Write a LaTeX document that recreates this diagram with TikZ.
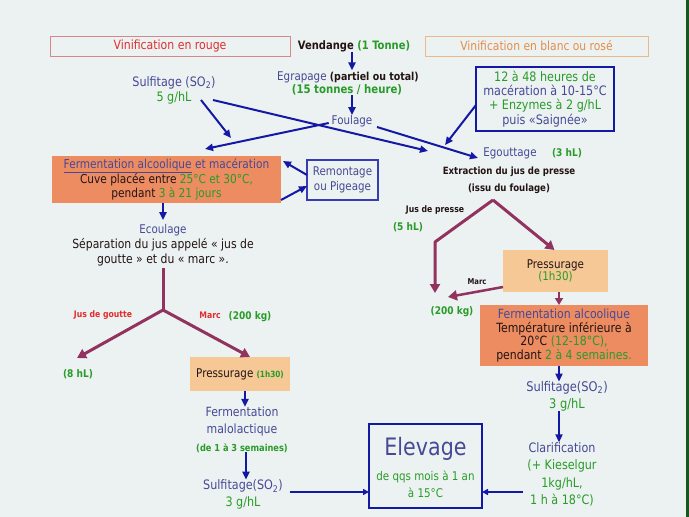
\documentclass[tikz,border=0pt]{standalone}
\usepackage{fontspec}
\setmainfont[FakeStretch=0.86]{DejaVu Sans}
\usetikzlibrary{arrows.meta}
\definecolor{bg}{RGB}{236,242,242}
\definecolor{bt}{RGB}{72,72,150}
\definecolor{gr}{RGB}{40,155,40}
\definecolor{ab}{RGB}{20,25,165}
\definecolor{mr}{RGB}{145,50,95}
\definecolor{salmon}{RGB}{236,140,96}
\definecolor{lorange}{RGB}{246,200,150}
\definecolor{rt}{RGB}{225,45,45}
\definecolor{rb}{RGB}{215,135,140}
\definecolor{ob}{RGB}{235,185,145}
\definecolor{ot}{RGB}{228,140,75}
\definecolor{tx}{RGB}{35,20,20}
\definecolor{edgec}{RGB}{25,85,30}
\begin{document}
\begin{tikzpicture}[x=1pt,y=-1pt,
  every node/.style={inner sep=0pt, outer sep=0pt, text=tx, font=\fontsize{12}{15}\selectfont},
  barrow/.style={ab, line width=2pt, -{Triangle[length=8pt,width=7pt]}},
  harrow/.style={ab, line width=1.8pt, -{Triangle[length=6pt,width=6pt]}},
  marrow/.style={mr, line width=3pt, -{Triangle[length=9pt,width=10pt]}},
  mline/.style={mr, line width=3pt, line join=round},
  bsmall/.style={font=\fontsize{10}{12}\selectfont\bfseries},
  gsmall/.style={font=\fontsize{10.5}{12}\selectfont\bfseries, text=gr},
  titlebox/.style={line width=1pt, minimum height=20pt}
]
\useasboundingbox (0,0) rectangle (689,517);
\fill[bg] (0,0) rectangle (689,517);
\fill[edgec] (686,0) rectangle (689,517);

% titles
\node[titlebox, draw=rb, minimum width=240pt, text=rt, font=\fontsize{12.7}{15}\selectfont] (rouge) at (170,46) {Vinification en rouge};
\node (vend) at (354,46) {\fontsize{11.6}{13}\selectfont\bfseries Vendange \textcolor{gr}{(1 Tonne)}};
\node[titlebox, draw=ob, minimum width=223pt, text=ot, font=\fontsize{12.5}{15}\selectfont] (blanc) at (536.5,46) {Vinification en blanc ou rosé};

% central top
\node (egr) at (348,77) {\textcolor{bt}{Egrapage} {\fontsize{11}{12}\selectfont\bfseries (partiel ou total)}};
\node[font=\fontsize{11.8}{13}\selectfont\bfseries, text=gr] (ton) at (347,90) {(15 tonnes / heure)};
\node[text=bt] (foul) at (352,121) {Foulage};
\node[align=center, text=bt, font=\fontsize{13}{15}\selectfont] (sulf) at (174,90) {Sulfitage (SO\textsubscript{2})\\\textcolor{gr}{5 g/hL}};

% left column
\node[fill=salmon, minimum width=229pt, minimum height=47pt, align=center, font=\fontsize{12.3}{14.5}\selectfont] (ferm) at (166.5,179.5)
  {\textcolor{bt}{\underline{Fermentation alcoolique} et macération}\\Cuve placée entre \textcolor{gr}{25°C et 30°C,}\\pendant \textcolor{gr}{3 à 21 jours}};
\node[draw=ab!85, line width=1.3pt, minimum width=71pt, minimum height=40pt, align=center, text=bt, font=\fontsize{12}{14.5}\selectfont] (remo) at (342.5,180) {Remontage\\ou Pigeage};
\node[text=bt] (ecoul) at (163,230) {Ecoulage};
\node[align=center, font=\fontsize{12.6}{15}\selectfont] (sep) at (163,252.5) {Séparation du jus appelé « jus de\\goutte » et du « marc ».};
\node[font=\fontsize{9}{11}\selectfont\bfseries, text=rt] (jg) at (103,315) {Jus de goutte};
\node[font=\fontsize{9}{11}\selectfont\bfseries, text=rt] (marcL) at (210,315) {Marc};
\node[gsmall] (kgL) at (250,317) {(200 kg)};
\node[gsmall] (hl8) at (78,374) {(8 hL)};
\node[fill=lorange, minimum width=100pt, minimum height=34pt] (pressL) at (240,374) {Pressurage {\fontsize{8.5}{10}\selectfont\bfseries\color{gr}(1h30)}};
\node[align=center, text=bt, font=\fontsize{12.7}{17}\selectfont] (malo) at (242,421.5) {Fermentation\\malolactique};
\node[font=\fontsize{9.6}{11}\selectfont\bfseries, text=gr] (sem) at (242,448) {(de 1 à 3 semaines)};
\node[align=center, text=bt, font=\fontsize{13}{17}\selectfont] (sulfL) at (243,494.5) {Sulfitage(SO\textsubscript{2})\\\textcolor{gr}{3 g/hL}};

% elevage
\node[draw=ab, line width=2.5pt, minimum width=113pt, minimum height=84pt] (elev) at (425.5,466) {};
\node[text=bt, font=\fontsize{24}{26}\selectfont] (elevt) at (425.5,449) {Elevage};
\node[text=gr, align=center, font=\fontsize{12}{17}\selectfont] (elevs) at (425.5,484.5) {de qqs mois à 1 an\\à 15°C};

% right column
\node[draw=ab, line width=2.5pt, minimum width=138pt, minimum height=64pt, align=center, font=\fontsize{13}{14.3}\selectfont] (mac) at (545,99)
  {\textcolor{gr}{12 à 48 heures de}\\\textcolor{bt}{macération à 10-15°C}\\\textcolor{gr}{+ Enzymes à 2 g/hL}\\\textcolor{bt}{puis «Saignée»}};
\node[text=bt] (egout) at (510,153) {Egouttage};
\node[gsmall] (e3) at (567,153) {(3 hL)};
\node[bsmall] (extr) at (509,172) {Extraction du jus de presse};
\node[bsmall] (issu) at (509,189) {(issu du foulage)};
\node[font=\fontsize{9}{11}\selectfont\bfseries] (jp) at (435,210) {Jus de presse};
\node[gsmall] (hl5) at (408,227) {(5 hL)};
\node[fill=lorange, minimum width=105pt, minimum height=42pt, align=center, font=\fontsize{12}{12.6}\selectfont] (pressR) at (555.5,271) {Pressurage\\\textcolor{gr}{(1h30)}};
\node[font=\fontsize{8}{10}\selectfont\bfseries] (marcR) at (477,282) {Marc};
\node[gsmall] (kgR) at (452,312) {(200 kg)};
\node[fill=salmon, minimum width=168pt, minimum height=61pt, align=center, font=\fontsize{12.7}{13.7}\selectfont] (fermR) at (564,335.5)
  {\textcolor{bt}{Fermentation alcoolique}\\Température inférieure à\\20°C \textcolor{gr}{(12-18°C),}\\pendant \textcolor{gr}{2 à 4 semaines.}};
\node[align=center, text=bt, font=\fontsize{13.3}{17}\selectfont] (sulfR) at (567,396.5) {Sulfitage(SO\textsubscript{2})\\\textcolor{gr}{3 g/hL}};
\node[align=center, text=bt, font=\fontsize{13}{17.6}\selectfont] (clar) at (562,474.5) {Clarification\\\textcolor{gr}{(+ Kieselgur}\\\textcolor{gr}{1kg/hL,}\\\textcolor{gr}{1 h à 18°C)}};

% coordinates
\coordinate (a1s) at (201,100);
\coordinate (a1e) at (231,138);
\coordinate (a2s) at (213,100);
\coordinate (a2e) at (428,151);
\coordinate (a3e) at (205,149);
\coordinate (a4s) at (377,127);
\coordinate (a4e) at (478,158);
\coordinate (a5e) at (445,145);
\coordinate (r1e) at (283,161);
\coordinate (r2s) at (281,200);
\coordinate (ystem) at (163,268);
\coordinate (yj) at (163,310);
\coordinate (yl) at (77,358);
\coordinate (yr) at (250,357);
\coordinate (apex) at (493,200);
\coordinate (jl) at (435,242);
\coordinate (jle) at (435,293);
\coordinate (mrs) at (503,287);
\coordinate (mre) at (448,297);
\coordinate (la) at (290,492);
\coordinate (ra) at (523,492);

% blue arrows
\draw[barrow, shorten >=1pt] ([xshift=-2pt]vend.south) -- ([xshift=-2pt]vend.south |- egr.north);
\draw[barrow] ([xshift=4pt]egr.south |- ton.south) -- ([xshift=4pt]egr.south |- foul.north);
\draw[barrow] (a1s) -- (a1e);
\draw[barrow] (a2s) -- (a2e);
\draw[barrow] ([xshift=-3pt,yshift=-2pt]foul.west) -- (a3e);
\draw[barrow] (a4s) -- (a4e);
\draw[barrow] ([yshift=-6pt]mac.west) -- (a5e);
\draw[barrow] ([yshift=5pt]remo.west) -- (r1e);
\draw[barrow] (r2s) -- ([yshift=-6pt]remo.west);
\draw[barrow, shorten >=4pt] ([xshift=-3.5pt]ferm.south) -- ([xshift=-3.5pt]ferm.south |- ecoul.north);
\draw[barrow] ([xshift=5pt]pressL.south) -- ([xshift=5pt]pressL.south |- malo.north);
\draw[barrow] ([xshift=4pt]sem.south) -- ([xshift=4pt]sem.south |- sulfL.north);
\draw[harrow] (la) -- (la -| elev.west);
\draw[harrow] (ra) -- (ra -| elev.east);
\draw[barrow] ([xshift=-5pt]fermR.south) -- ([xshift=-5pt]fermR.south |- sulfR.north);
\draw[barrow] ([xshift=-3pt]clar.north |- sulfR.south) -- ([xshift=-3pt]clar.north);

% maroon
\draw[mline] (ystem) -- (yj);
\draw[marrow] (yj) -- (yl);
\draw[marrow] (yj) -- (yr);
\draw[marrow, line join=round] (apex) -- (jl) -- (jle);
\draw[marrow] (apex) -- ([xshift=-1pt]pressR.north);
\draw[marrow, line width=2.5pt] (mrs) -- (mre);
\draw[marrow, line width=2.5pt, -{Triangle[length=7pt,width=8pt]}] ([xshift=3.5pt]pressR.south) -- ([xshift=3.5pt]pressR.south |- fermR.north);
\end{tikzpicture}
\end{document}
